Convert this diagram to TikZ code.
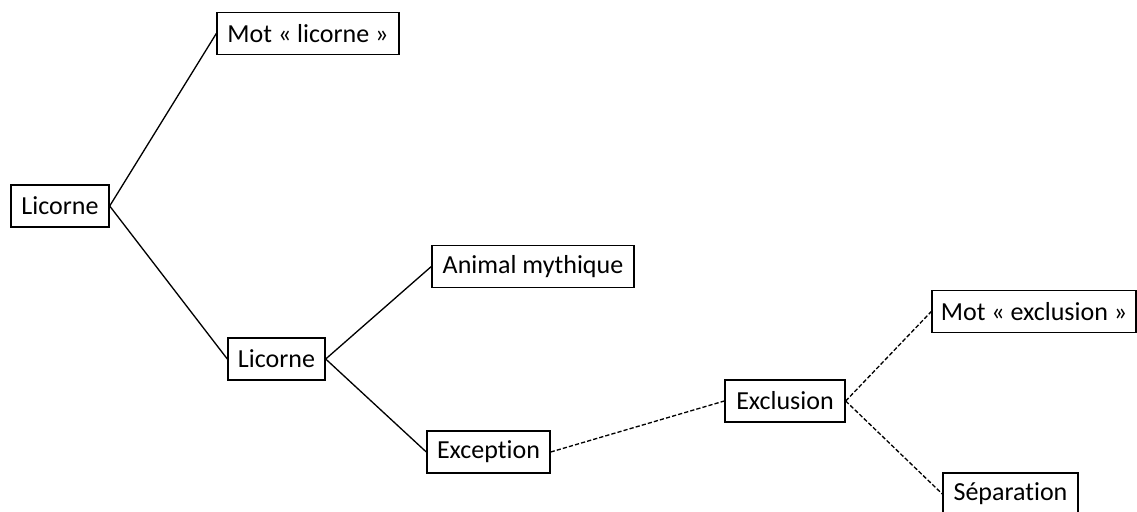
\documentclass[tikz,border=0pt]{standalone}
\usepackage{fontspec}
\setmainfont[Ligatures=NoCommon]{Carlito}
\usetikzlibrary{positioning}
\tikzset{
  box/.style={draw, line width=0.8pt, minimum height=0.84cm, inner sep=0pt, font=\fontsize{14.8}{17}\selectfont},
  link/.style={line width=0.75pt},
  dlink/.style={link, dash pattern=on 2.4pt off 1.2pt},
}
\begin{document}
\begin{tikzpicture}[x=0.02cm, y=-0.02cm]
        \useasboundingbox (0,0) rectangle (1137,511);
        \clip (0,0) rectangle (1137,511);
        \node[box, minimum width=1.96cm] (lic) at (60,206) {Licorne};
        \node[box, minimum width=3.64cm] (motlic) at (308,33.5) {Mot « licorne »};
        \node[box, minimum width=1.94cm] (licb) at (276.5,359) {Licorne};
        \node[box, minimum width=4.04cm] (anim) at (533,266.5) {Animal mythique};
        \node[box, minimum width=2.46cm] (excep) at (488.5,452) {Exception};
        \node[box, minimum width=2.40cm] (exclu) at (785,401) {Exclusion};
        \node[box, minimum width=4.08cm] (motexc) at (1034,311.5) {Mot « exclusion »};
        \node[box, minimum width=2.70cm] (sep) at (1010.5,494) {Séparation};
        \draw[link] (lic.east)--(motlic.west); \draw[link] (lic.east)--(licb.west);
        \draw[link] (licb.east)--(anim.west); \draw[link] (licb.east)--(excep.west);
        \draw[dlink] (excep.east)--(exclu.west);
        \draw[dlink] (exclu.east)--(motexc.west); \draw[dlink] (exclu.east)--(sep.west);
      \end{tikzpicture}
\end{document}
